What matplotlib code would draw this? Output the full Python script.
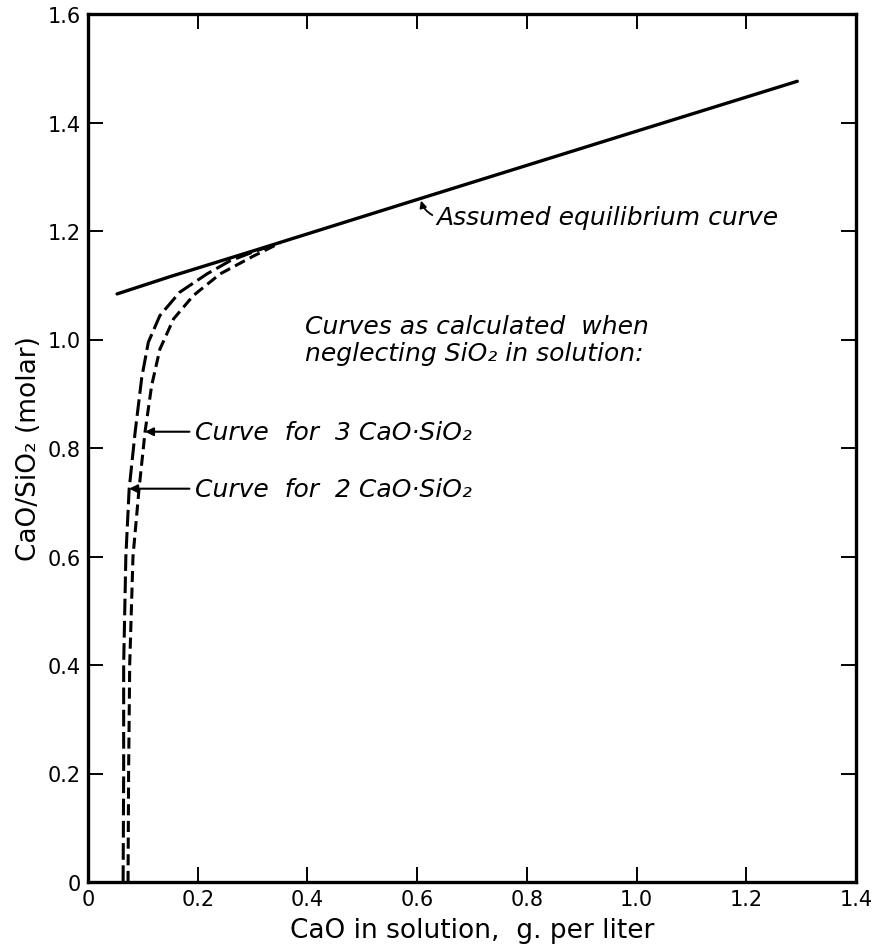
import matplotlib
matplotlib.use("Agg")
import matplotlib.pyplot as plt

plt.rcParams['font.family'] = ['DejaVu Sans']
plt.rcParams['lines.scale_dashes'] = False

# Assumed equilibrium curve (solid)
eq_x = [0.053, 0.15, 0.30, 0.60, 1.00, 1.293]
eq_y = [1.084, 1.116, 1.163, 1.258, 1.384, 1.476]

# Curve for 2 CaO.SiO2 (inner, long dashes)
c2_x = [0.064, 0.065, 0.065, 0.069, 0.075, 0.086, 0.098, 0.110, 0.131, 0.167, 0.217, 0.259, 0.300, 0.335]
c2_y = [0.000, 0.200, 0.400, 0.600, 0.724, 0.830, 0.930, 0.995, 1.044, 1.087, 1.121, 1.145, 1.161, 1.173]

# Curve for 3 CaO.SiO2 (outer, short dashes)
c3_x = [0.073, 0.074, 0.076, 0.082, 0.093, 0.104, 0.116, 0.131, 0.156, 0.192, 0.241, 0.302, 0.350]
c3_y = [0.000, 0.200, 0.400, 0.600, 0.724, 0.830, 0.915, 0.982, 1.038, 1.081, 1.121, 1.154, 1.178]

x_ticks = [0, 0.2, 0.4, 0.6, 0.8, 1.0, 1.2, 1.4]
x_ticklabels = ["0", "0.2", "0.4", "0.6", "0.8", "1.0", "1.2", "1.4"]
y_ticks = [0, 0.2, 0.4, 0.6, 0.8, 1.0, 1.2, 1.4, 1.6]
y_ticklabels = ["0", "0.2", "0.4", "0.6", "0.8", "1.0", "1.2", "1.4", "1.6"]

fig = plt.figure(figsize=(8.72, 9.53), dpi=100)
ax = fig.add_axes([88/872, 70/953, (856-88)/872, (883-15)/953])

ax.plot(eq_x, eq_y, color='black', lw=2.4, solid_capstyle='round')
l2, = ax.plot(c2_x, c2_y, color='black', lw=2.2)
l2.set_dashes((12, 4))
l3, = ax.plot(c3_x, c3_y, color='black', lw=2.2)
l3.set_dashes((8, 4))

ax.set_xlim(0, 1.4)
ax.set_ylim(0, 1.6)
ax.set_xticks(x_ticks)
ax.set_xticklabels(x_ticklabels)
ax.set_yticks(y_ticks)
ax.set_yticklabels(y_ticklabels)
ax.tick_params(direction='in', length=11, width=1.4, top=True, right=True,
               labelsize=15, pad=5)
for s in ax.spines.values():
    s.set_linewidth(2.4)

ax.set_xlabel("CaO in solution,  g. per liter", fontsize=19, labelpad=6)
ax.set_ylabel("CaO/SiO\u2082 (molar)", fontsize=19, labelpad=4)

txtkw = dict(fontsize=18, style='italic', color='black')
ax.text(0.395, 1.000, "Curves as calculated  when\nneglecting SiO\u2082 in solution:",
        ha='left', va='center', linespacing=1.15, **txtkw)

ax.annotate("Curve  for  3 CaO\u00b7SiO\u2082", xy=(0.104, 0.830), xytext=(0.195, 0.830),
            ha='left', va='center', **txtkw,
            arrowprops=dict(arrowstyle='-|>', color='black', lw=1.5,
                            mutation_scale=12, shrinkA=2, shrinkB=0))
ax.annotate("Curve  for  2 CaO\u00b7SiO\u2082", xy=(0.075, 0.725), xytext=(0.195, 0.725),
            ha='left', va='center', **txtkw,
            arrowprops=dict(arrowstyle='-|>', color='black', lw=1.5,
                            mutation_scale=12, shrinkA=2, shrinkB=0))
ax.annotate("Assumed equilibrium curve", xy=(0.607, 1.256), xytext=(0.635, 1.226),
            ha='left', va='center', **txtkw,
            arrowprops=dict(arrowstyle='-|>', color='black', lw=1.3,
                            mutation_scale=10, shrinkA=1, shrinkB=0,
                            relpos=(0.0, 0.5),
                            connectionstyle='arc3,rad=-0.25'))

fig.savefig("out.png", dpi=100)
